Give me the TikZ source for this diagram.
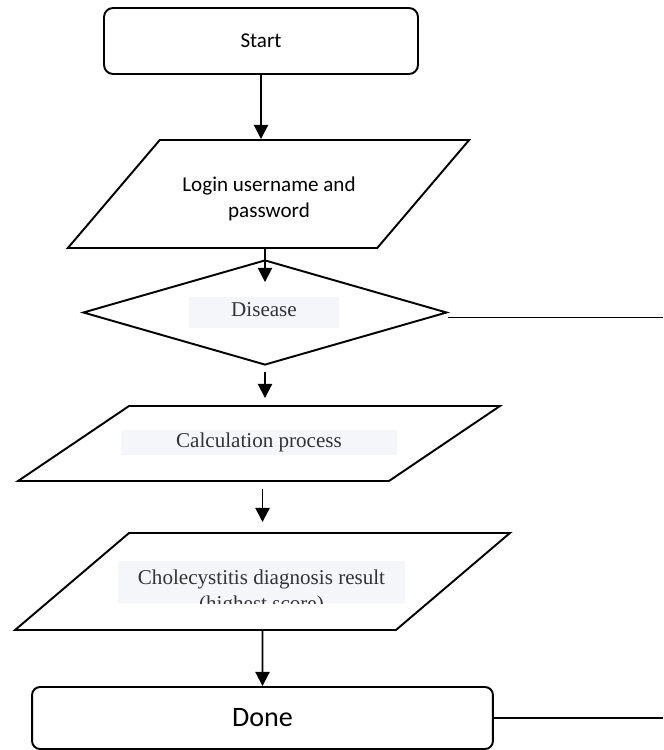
\documentclass[tikz,border=0pt]{standalone}
\usepackage{fontspec}
\setmainfont{Liberation Serif}
\newfontfamily\calfont{Carlito}
\usetikzlibrary{arrows.meta,shapes.geometric,positioning}
\definecolor{boxgray}{RGB}{244,246,249}
% empty body of a given width and half height
\newcommand{\iofill}[2]{\vrule width 0pt height #2 depth #2\hspace*{#1}}
\tikzset{
  termbox/.style={draw, line width=1.1pt, rounded corners=0.18cm},
  iobox/.style={draw, line width=1.1pt, trapezium, inner sep=0pt},
  decbox/.style={draw, line width=1.1pt, diamond, inner sep=1pt},
  txtbox/.style={fill=boxgray, inner sep=0pt},
  txtfont/.style={font=\fontsize{12}{14.4}\selectfont, text=black!80, align=center},
  arr/.style={line width=1.1pt, -{Triangle[length=8pt,width=8pt]}},
}

\begin{document}
\begin{tikzpicture}[x=0.02cm, y=-0.02cm]
		\useasboundingbox (0,0) rectangle (663,750);
		
		%%%%% shapes %%%%%
		\node[termbox, minimum width=6.28cm, minimum height=1.32cm, font=\calfont\fontsize{12}{14}\selectfont] (start) at (261,41) {Start};
		
		\node[iobox, trapezium left angle=49.6, trapezium right angle=130.4] (login) at (268.5,194) {\iofill{4.35cm}{1.08cm}};
		\node[font=\calfont\fontsize{12}{14.8}\selectfont, align=center] (logintxt) at (269,199) {Login username and\\password};
		
		\node[decbox, minimum width=7.28cm, minimum height=2.1cm] (dia) at (265,312.5) {\strut};
		\node[txtbox, minimum width=3cm, minimum height=0.62cm] (diabg) at (264,312.5) {};
		\node[txtfont] (diatxt) at (264,310) {Disease};
		
		\node[iobox, trapezium left angle=34.05, trapezium right angle=145.95] (calc) at (259,443.5) {\iofill{5.2cm}{0.75cm}};
		\node[txtbox, txtfont, minimum width=5.52cm, minimum height=0.5cm] (calctxt) at (259,442.5) {Calculation process};
		
		\node[iobox, trapezium left angle=40.4, trapezium right angle=139.6] (chol) at (262.5,581.5) {\iofill{5.34cm}{0.97cm}};
		\node[txtbox, minimum width=5.74cm, minimum height=0.84cm] (cholbg) at (261.5,582) {};
		\begin{scope}
			\clip (cholbg.south west) rectangle (cholbg.north east);
			\node[txtfont, anchor=north] (choltxt) at (261.5,564) {Cholecystitis diagnosis result\\(highest score)};
		\end{scope}
		
		\node[termbox, rounded corners=0.16cm, minimum width=9.22cm, minimum height=1.24cm, font=\calfont\fontsize{16}{19}\selectfont] (done) at (262.5,718) {Done};
		
		%%%%% connectors %%%%%
		\draw[arr] (start.south) -- (start.south |- login.north);
		\draw[arr] (login.south -| dia.north) -- ([yshift=-0.46cm]dia.north);
		\draw[arr, shorten <=0.12cm, shorten >=0.14cm] (dia.south) -- (calc.north -| dia.south);
		\draw[arr, shorten <=0.14cm, shorten >=0.2cm] (calc.south -| chol.north) -- (chol.north);
		\draw[arr] (chol.south) -- (done.north);
		
		\coordinate (diaout) at (663,317);
		\coordinate (doneout) at (663,717);
		\draw[line width=1.1pt] ([yshift=-0.1cm]dia.east) -- ([yshift=-0.1cm]dia.east -| diaout);
		\draw[line width=1.1pt] (done.east) -- (done.east -| doneout);
		
	\end{tikzpicture}
\end{document}
